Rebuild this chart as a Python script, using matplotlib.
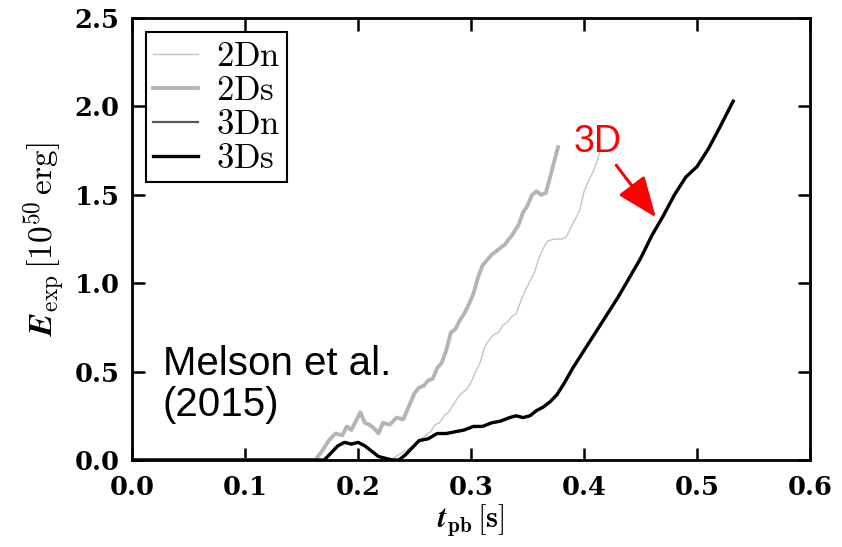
import matplotlib.pyplot as plt

plt.rcParams['mathtext.fontset'] = 'cm'

# 2Dn: thin light grey
t_2dn = [0.0, 0.228, 0.236, 0.244, 0.252, 0.258, 0.264, 0.268, 0.272, 0.276, 0.280,
         0.284, 0.288, 0.292, 0.296, 0.300, 0.304, 0.308, 0.312, 0.316, 0.320,
         0.324, 0.328, 0.332, 0.336, 0.340, 0.344, 0.348, 0.352, 0.356, 0.360,
         0.364, 0.368, 0.374, 0.380, 0.384, 0.388, 0.392, 0.396, 0.400, 0.404,
         0.408, 0.412, 0.415]
e_2dn = [0.0, 0.0, 0.03, 0.06, 0.10, 0.13, 0.16, 0.20, 0.21, 0.25, 0.27,
         0.31, 0.35, 0.38, 0.40, 0.44, 0.50, 0.55, 0.64, 0.68, 0.71,
         0.72, 0.76, 0.78, 0.81, 0.83, 0.90, 0.96, 1.01, 1.06, 1.14,
         1.20, 1.24, 1.25, 1.25, 1.26, 1.31, 1.36, 1.41, 1.52, 1.58,
         1.63, 1.70, 1.77]

# 2Ds: thick light grey
t_2ds = [0.0, 0.162, 0.168, 0.174, 0.180, 0.186, 0.190, 0.194, 0.198, 0.202, 0.206,
         0.210, 0.214, 0.218, 0.222, 0.228, 0.234, 0.240, 0.246, 0.250, 0.254,
         0.258, 0.262, 0.266, 0.270, 0.274, 0.278, 0.282, 0.286, 0.290, 0.294,
         0.298, 0.302, 0.306, 0.310, 0.314, 0.318, 0.324, 0.330, 0.336, 0.342,
         0.346, 0.350, 0.354, 0.358, 0.362, 0.366, 0.370, 0.374, 0.377]
e_2ds = [0.0, 0.0, 0.05, 0.11, 0.15, 0.14, 0.19, 0.17, 0.22, 0.27, 0.21,
         0.20, 0.18, 0.15, 0.21, 0.20, 0.24, 0.23, 0.32, 0.38, 0.41,
         0.42, 0.45, 0.46, 0.52, 0.55, 0.62, 0.72, 0.74, 0.79, 0.83,
         0.88, 0.94, 1.03, 1.10, 1.13, 1.16, 1.19, 1.22, 1.27, 1.33,
         1.40, 1.44, 1.50, 1.52, 1.50, 1.51, 1.60, 1.70, 1.77]

# 3Ds: thick black
t_3ds = [0.0, 0.170, 0.176, 0.182, 0.188, 0.194, 0.200, 0.206, 0.212, 0.218, 0.224,
         0.230, 0.236, 0.242, 0.248, 0.254, 0.262, 0.270, 0.278, 0.286, 0.294,
         0.302, 0.310, 0.318, 0.326, 0.334, 0.340, 0.346, 0.352, 0.358, 0.364,
         0.370, 0.376, 0.382, 0.390, 0.400, 0.410, 0.420, 0.430, 0.440, 0.450,
         0.460, 0.470, 0.480, 0.490, 0.500, 0.510, 0.520, 0.532]
e_3ds = [0.0, 0.0, 0.04, 0.08, 0.10, 0.09, 0.10, 0.08, 0.05, 0.02, 0.01,
         0.0, 0.0, 0.03, 0.07, 0.11, 0.12, 0.15, 0.15, 0.16, 0.17,
         0.19, 0.19, 0.21, 0.22, 0.24, 0.25, 0.24, 0.25, 0.28, 0.30,
         0.33, 0.37, 0.43, 0.52, 0.62, 0.72, 0.82, 0.92, 1.03, 1.14,
         1.27, 1.38, 1.50, 1.60, 1.66, 1.76, 1.88, 2.03]

# 3Dn: mostly hidden under 3Ds
t_3dn = t_3ds
e_3dn = e_3ds

xticks = [0.0, 0.1, 0.2, 0.3, 0.4, 0.5, 0.6]
yticks = [0.0, 0.5, 1.0, 1.5, 2.0, 2.5]

fig = plt.figure(figsize=(8.42, 5.47), dpi=100)
ax = fig.add_axes([0.157, 0.159, 0.805, 0.808])

ax.plot(t_2dn, e_2dn, color='#c4c4c4', lw=1.0, label=r'$\mathrm{2Dn}$')
ax.plot(t_2ds, e_2ds, color='#b4b4b4', lw=2.8, label=r'$\mathrm{2Ds}$')
ax.plot(t_3dn, e_3dn, color='#555555', lw=1.6, label=r'$\mathrm{3Dn}$')
ax.plot(t_3ds, e_3ds, color='black', lw=2.4, label=r'$\mathrm{3Ds}$')

ax.set_xlim(0, 0.6)
ax.set_ylim(0, 2.5)
ax.set_xticks(xticks)
ax.set_yticks(yticks)
ax.set_xticklabels(['%.1f' % v for v in xticks])
ax.set_yticklabels(['%.1f' % v for v in yticks])
for lab in ax.get_xticklabels() + ax.get_yticklabels():
    lab.set_family('DejaVu Serif')
    lab.set_weight('bold')
ax.tick_params(direction='in', length=9, width=1.8, top=True, right=True,
               labelsize=18.5)
ax.tick_params(axis='x', pad=11)
ax.tick_params(axis='y', pad=9)
for s in ax.spines.values():
    s.set_linewidth(2)

ax.set_xlabel(r'$\boldsymbol{t}_{\mathbf{pb}}\,\mathbf{[s]}$', fontsize=22, labelpad=1)
ax.set_ylabel(r'$\boldsymbol{E}_{\rm exp}\,[10^{50}\,{\rm erg}]$', fontsize=24, labelpad=5)

leg = ax.legend(loc='upper left', fontsize=25, frameon=True, fancybox=False,
                handlelength=1.3, handletextpad=0.5, labelspacing=0.0,
                borderaxespad=0.4, borderpad=0.2, framealpha=1)
leg.get_frame().set_edgecolor('black')
leg.get_frame().set_linewidth(1.5)

ax.text(0.027, 0.43, 'Melson et al.\n(2015)', fontsize=29, family='Liberation Sans',
        ha='left', va='center', linespacing=1.1)
ax.text(0.412, 1.80, '3D', fontsize=27, family='Liberation Sans', color='red',
        ha='center', va='center')
ax.annotate('', xy=(0.465, 1.36), xytext=(0.427, 1.68),
            arrowprops=dict(arrowstyle='-|>,head_length=1.25,head_width=0.5',
                            mutation_scale=20, color='red', lw=2.2))

fig.savefig('out.png', dpi=100)
